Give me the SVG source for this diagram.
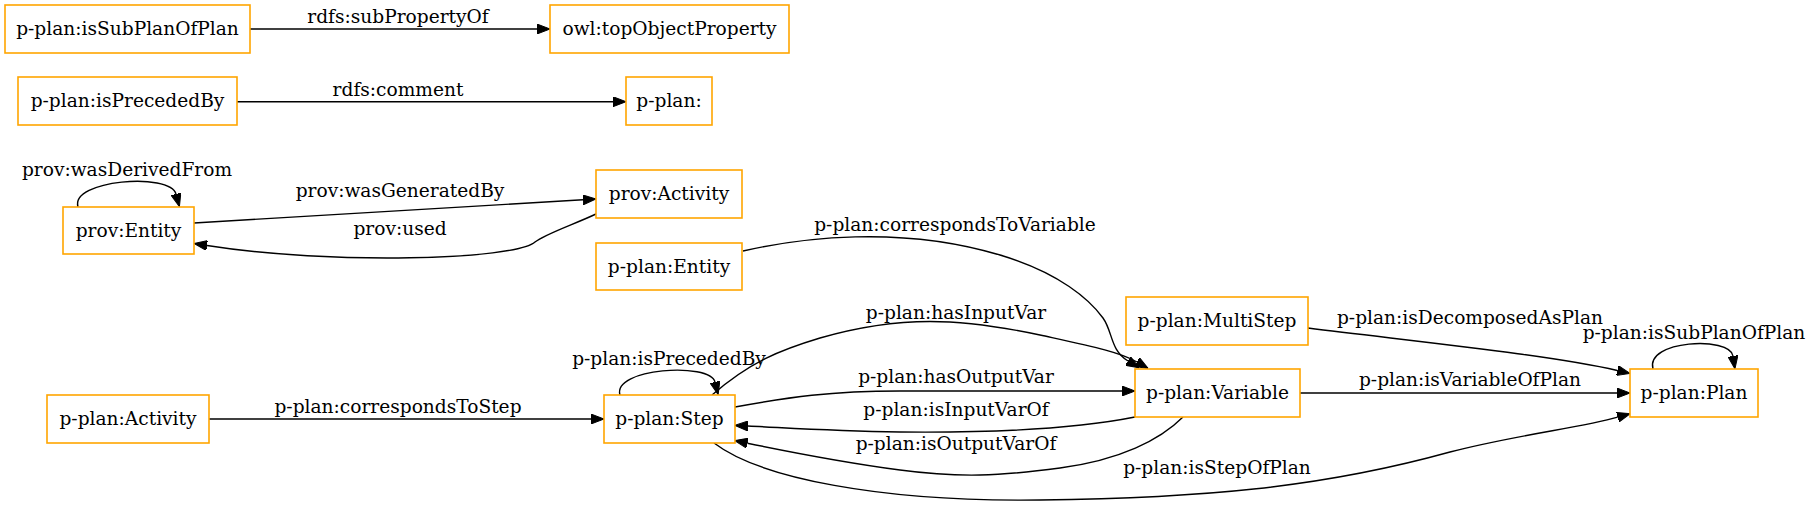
<svg xmlns="http://www.w3.org/2000/svg" width="1812" height="507" viewBox="0 0 1812 507">
<style>
.n rect{fill:#fff;stroke:#FFA500;stroke-width:1.6}
.n text{font-family:"DejaVu Serif",serif;font-size:18.6px;text-anchor:middle;fill:#000}
.e path{fill:none;stroke:#000;stroke-width:1.4;marker-end:url(#ah)}
.e text{font-family:"DejaVu Serif",serif;font-size:18.6px;text-anchor:middle;fill:#000}
</style>
<defs>
<marker id="ah" markerUnits="userSpaceOnUse" viewBox="0 0 13 10" markerWidth="13" markerHeight="10" refX="0" refY="5" orient="auto">
<path d="M0,0 L13,5 L0,10 z" fill="#000" stroke="#000" stroke-width="1"/>
</marker>
</defs>
<rect width="1812" height="507" fill="#fff"/>
<g id="connectors" class="e">
<path d="M250,29 L537,29"/>
<text x="398" y="23">rdfs:subPropertyOf</text>
<path d="M237,101.7 L613,101.7"/>
<text x="398" y="96">rdfs:comment</text>
<path d="M78,207 C70,180 170,172 176,194"/>
<text x="127" y="176">prov:wasDerivedFrom</text>
<path d="M194,223 L583,199.8"/>
<text x="400" y="197">prov:wasGeneratedBy</text>
<path d="M596,214 C575,224 545,234 535,242 C515,260 330,265 207,245.5"/>
<text x="400" y="235">prov:used</text>
<path d="M209,419 L591,419"/>
<text x="398" y="413">p-plan:correspondsToStep</text>
<path d="M620,395 C612,368 710,362 715,382"/>
<text x="669" y="365">p-plan:isPrecededBy</text>
<path d="M743,251 C800,238 900,225 1000,255 C1060,273 1090,300 1103,318 C1113,332 1110,350 1128,361"/>
<text x="955" y="231">p-plan:correspondsToVariable</text>
<path d="M712,395 C750,362 780,350 820,338 C900,315 960,318 1040,335 C1090,346 1120,352 1137,362"/>
<text x="956" y="319">p-plan:hasInputVar</text>
<path d="M735,407 C790,397 830,391 900,391 L1122,391"/>
<text x="956" y="383">p-plan:hasOutputVar</text>
<path d="M1135,417 C1080,428 1000,433 900,432 C830,431 790,428 748,426"/>
<text x="956" y="416">p-plan:isInputVarOf</text>
<path d="M1183,417 C1160,440 1120,460 1060,468 C1000,476 960,478 900,470 C840,462 790,452 747.4,443.2"/>
<text x="956" y="450">p-plan:isOutputVarOf</text>
<path d="M714,443 C760,478 880,502 1040,500 C1200,498 1320,488 1450,452 C1520,434 1580,428 1617.7,417.2"/>
<text x="1217" y="474">p-plan:isStepOfPlan</text>
<path d="M1308,328 C1420,342 1550,355 1617.3,370.5"/>
<text x="1470" y="324">p-plan:isDecomposedAsPlan</text>
<path d="M1300,393 L1617,393"/>
<text x="1470" y="386">p-plan:isVariableOfPlan</text>
<path d="M1653,369 C1645,340 1730,336 1733,356"/>
<text x="1694" y="339">p-plan:isSubPlanOfPlan</text>
</g>
<g id="n-isSubPlanOfPlan" class="n"><rect x="5" y="5" width="245" height="48"/><text x="127.5" y="35">p-plan:isSubPlanOfPlan</text></g>
<g id="n-topObjectProperty" class="n"><rect x="550" y="5" width="239" height="48"/><text x="669.5" y="35">owl:topObjectProperty</text></g>
<g id="n-isPrecededBy" class="n"><rect x="18" y="77" width="219" height="48"/><text x="127.5" y="107">p-plan:isPrecededBy</text></g>
<g id="n-pplan" class="n"><rect x="626" y="77" width="86" height="48"/><text x="669" y="107">p-plan:</text></g>
<g id="n-provEntity" class="n"><rect x="63" y="207" width="131" height="47"/><text x="128.5" y="236.5">prov:Entity</text></g>
<g id="n-provActivity" class="n"><rect x="596" y="170" width="146" height="48"/><text x="669" y="200">prov:Activity</text></g>
<g id="n-pplanEntity" class="n"><rect x="596" y="243" width="146" height="47"/><text x="669" y="272.5">p-plan:Entity</text></g>
<g id="n-MultiStep" class="n"><rect x="1126" y="297" width="182" height="48"/><text x="1217" y="327">p-plan:MultiStep</text></g>
<g id="n-Variable" class="n"><rect x="1135" y="369" width="165" height="48"/><text x="1217.5" y="399">p-plan:Variable</text></g>
<g id="n-Plan" class="n"><rect x="1630" y="369" width="128" height="48"/><text x="1694" y="399">p-plan:Plan</text></g>
<g id="n-pplanActivity" class="n"><rect x="47" y="395" width="162" height="48"/><text x="128" y="425">p-plan:Activity</text></g>
<g id="n-Step" class="n"><rect x="604" y="395" width="131" height="48"/><text x="669.5" y="425">p-plan:Step</text></g>
</svg>
